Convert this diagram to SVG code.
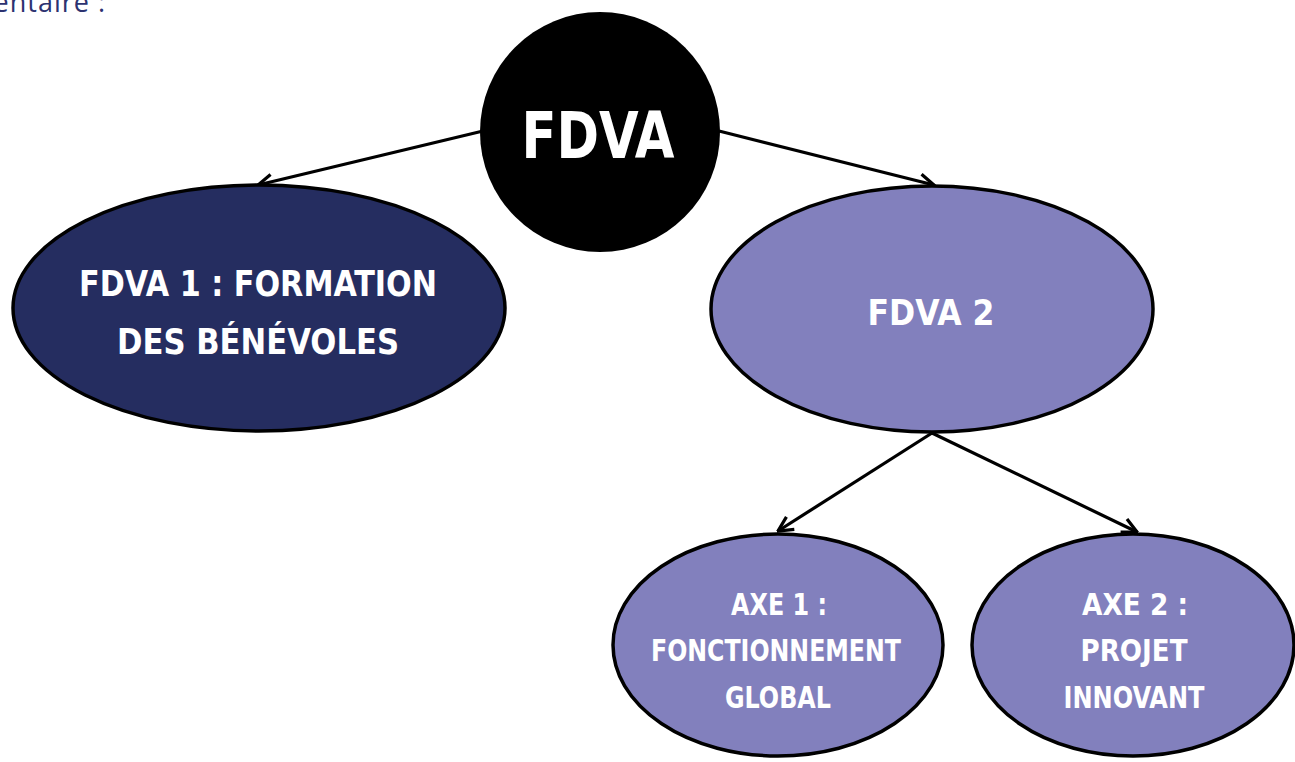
<svg xmlns="http://www.w3.org/2000/svg" width="1295" height="762" viewBox="0 0 1295 762">
<style>
.lbl{font-family:"DejaVu Sans Condensed","DejaVu Sans",sans-serif;font-weight:bold;fill:#ffffff;text-anchor:middle}
.node{stroke:#000;stroke-width:3.5}
.conn{stroke:#000;stroke-width:3.2;fill:none;marker-end:url(#arr)}
</style>
<defs>
<marker id="arr" viewBox="0 0 12 12" refX="11" refY="6" markerWidth="5.5" markerHeight="5.5" orient="auto" markerUnits="strokeWidth">
<path d="M1,1 L11,6 L1,11" fill="none" stroke="#000" stroke-width="2.2"/>
</marker>
</defs>
<rect width="1295" height="762" fill="#ffffff"/>
<text x="106" y="12" text-anchor="end" font-family="Open Sans, sans-serif" font-size="27" letter-spacing="1" fill="#2c3270">entaire :</text>
<g id="connectors">
<line class="conn" x1="483" y1="131" x2="258" y2="185"/>
<line class="conn" x1="719" y1="131" x2="934" y2="185"/>
<line class="conn" x1="932" y1="433" x2="778" y2="531"/>
<line class="conn" x1="932" y1="433" x2="1137" y2="532"/>
</g>
<g id="fdva1">
<ellipse class="node" cx="259" cy="308" rx="246" ry="123" fill="#252d60"/>
<text class="lbl" x="258" y="296" font-size="36" textLength="358" lengthAdjust="spacingAndGlyphs">FDVA 1 : FORMATION</text>
<text class="lbl" x="258" y="354" font-size="36" textLength="282" lengthAdjust="spacingAndGlyphs">DES BÉNÉVOLES</text>
</g>
<g id="fdva2">
<ellipse class="node" cx="932" cy="309" rx="221" ry="123" fill="#8280bd"/>
<text class="lbl" x="931" y="325" font-size="36" textLength="127" lengthAdjust="spacingAndGlyphs">FDVA 2</text>
</g>
<g id="fdva">
<circle cx="600" cy="132" r="120" fill="#000000"/>
<text class="lbl" x="598" y="158" font-size="64" textLength="153" lengthAdjust="spacingAndGlyphs">FDVA</text>
</g>
<g id="axe1">
<ellipse class="node" cx="778" cy="645" rx="165" ry="111" fill="#8280bd"/>
<text class="lbl" x="779" y="615" font-size="30" textLength="96" lengthAdjust="spacingAndGlyphs">AXE 1 :</text>
<text class="lbl" x="776" y="661" font-size="30" textLength="250" lengthAdjust="spacingAndGlyphs">FONCTIONNEMENT</text>
<text class="lbl" x="778" y="708" font-size="30" textLength="106" lengthAdjust="spacingAndGlyphs">GLOBAL</text>
</g>
<g id="axe2">
<ellipse class="node" cx="1133" cy="645" rx="161" ry="111" fill="#8280bd"/>
<text class="lbl" x="1135" y="615" font-size="30" textLength="106" lengthAdjust="spacingAndGlyphs">AXE 2 :</text>
<text class="lbl" x="1134" y="661" font-size="30" textLength="107" lengthAdjust="spacingAndGlyphs">PROJET</text>
<text class="lbl" x="1134" y="708" font-size="30" textLength="141" lengthAdjust="spacingAndGlyphs">INNOVANT</text>
</g>
</svg>
